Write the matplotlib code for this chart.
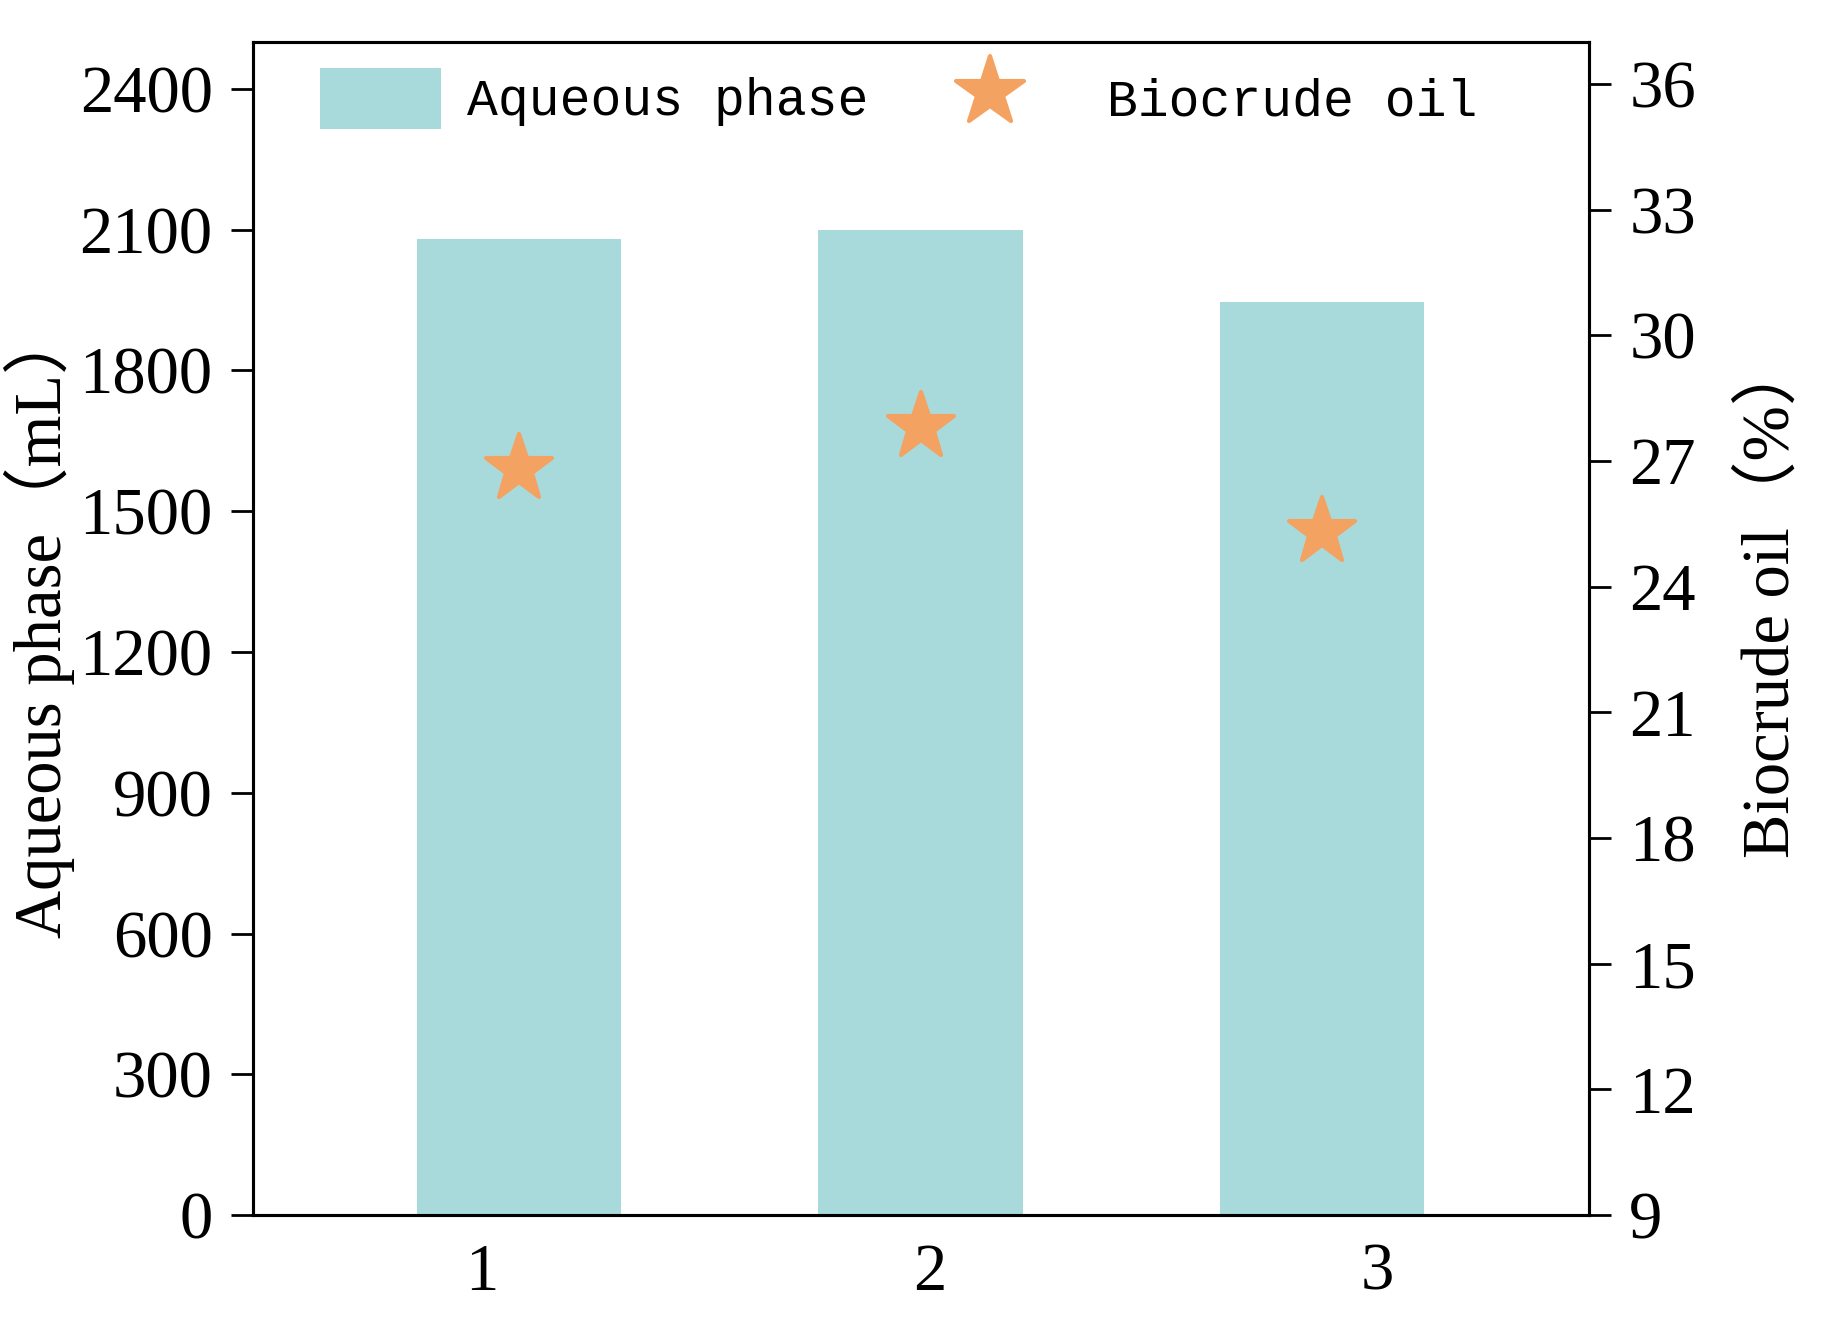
import matplotlib
matplotlib.use("Agg")
import matplotlib.pyplot as plt
from matplotlib.patches import Patch
from matplotlib.lines import Line2D
from matplotlib.markers import MarkerStyle

# data
runs = [1, 2, 3]
run_labels = ["1", "2", "3"]
aqueous_ml = [2080, 2100, 1945]
biocrude_pct = [26.8, 27.8, 25.3]

left_ticks = [0, 300, 600, 900, 1200, 1500, 1800, 2100, 2400]
right_ticks = [9, 12, 15, 18, 21, 24, 27, 30, 33, 36]

BAR_C = "#A8DADC"
STAR_C = "#F4A261"
SERIF = ["Liberation Serif", "Noto Sans CJK SC"]

plt.rcParams["font.family"] = SERIF
plt.rcParams["axes.linewidth"] = 2.2

fig = plt.figure(figsize=(18.29, 13.18), dpi=100)
ax = fig.add_axes([0.1383, 0.0781, 0.8688 - 0.1383, 0.9681 - 0.0781])
ax2 = ax.twinx()

star = MarkerStyle("*", joinstyle="round")

ax.bar(runs, aqueous_ml, width=0.51, color=BAR_C, zorder=1)
ax2.plot(runs, biocrude_pct, ls="none", marker=star, ms=50, color=STAR_C,
         mec=STAR_C, mew=3, zorder=3)

ax.set_xlim(0.337, 3.665)
ax.set_ylim(0, 2500)
ax2.set_ylim(9, 37)

ax.set_yticks(left_ticks)
ax2.set_yticks(right_ticks)
# labels on the original sit a bit off the bar centres
ax.set_xticks([0.907, 2.023, 3.137], run_labels)

ax.tick_params(axis="y", direction="out", length=16, width=2, pad=13, labelsize=48)
ax2.tick_params(axis="y", direction="out", length=16, width=2, pad=13, labelsize=48)
ax.tick_params(axis="x", length=0, pad=20, labelsize=48)

ax.set_ylabel("Aqueous phase（mL）", fontsize=48)
ax2.set_ylabel("Biocrude oil（%）", fontsize=48)
ax.yaxis.set_label_coords(-0.133, 0.505)
ax2.yaxis.set_label_coords(1.112, 0.526)

handles = [
    Patch(facecolor=BAR_C, edgecolor="none"),
    Line2D([], [], ls="none", marker=star, ms=52, color=STAR_C, mec=STAR_C, mew=3),
]
leg = ax.legend(handles, ["Aqueous phase", " Biocrude oil"], ncol=2,
                loc="upper left", bbox_to_anchor=(0.031, 1.0), frameon=False,
                prop={"family": "Liberation Mono", "size": 37},
                handlelength=2.35, handleheight=1.45, handletextpad=0.5,
                columnspacing=1.2, borderaxespad=0.1)

fig.savefig("out.png", dpi=100)
